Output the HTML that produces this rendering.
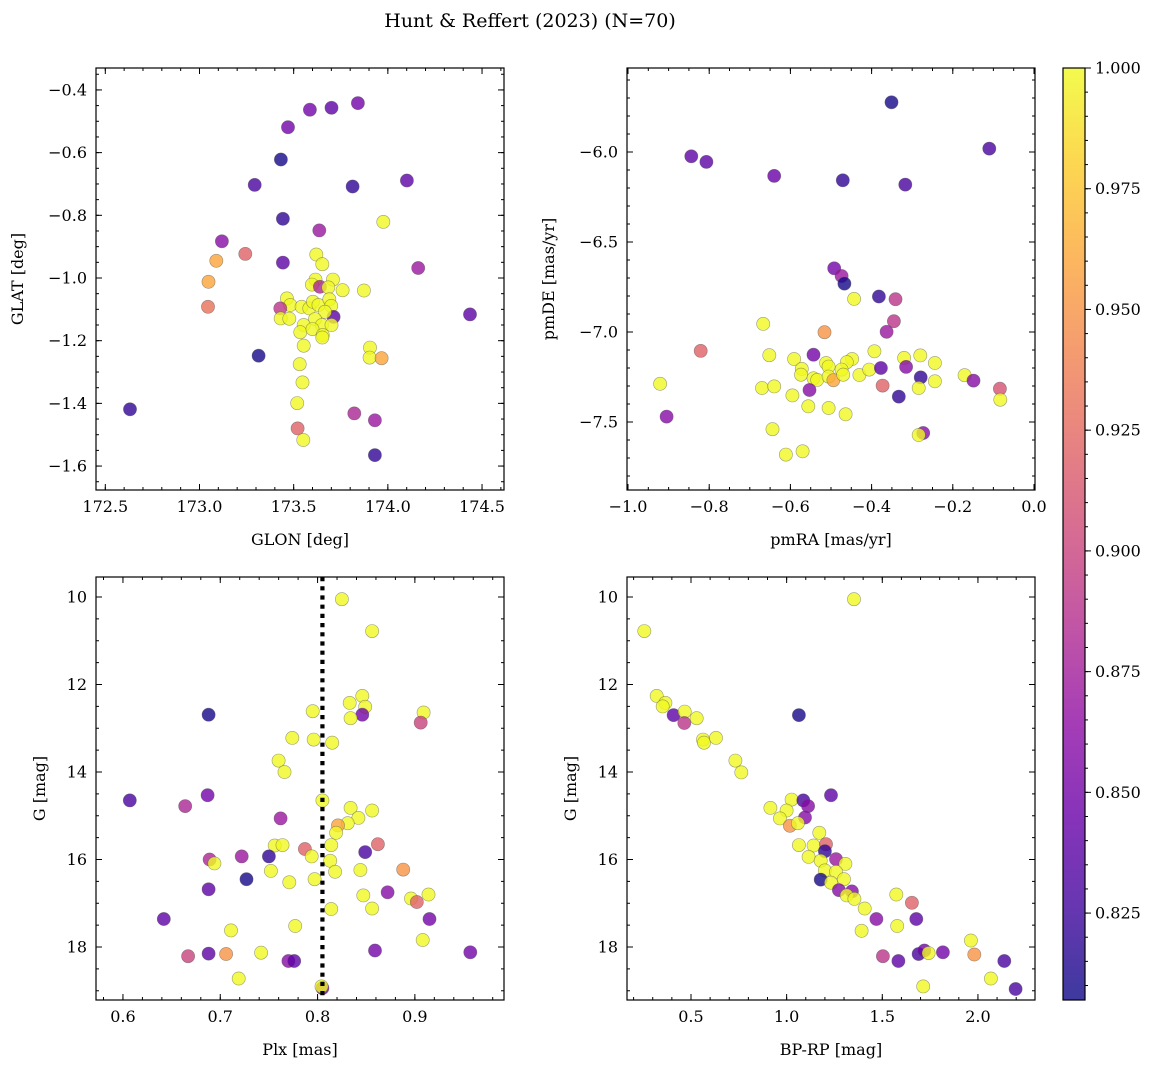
<!DOCTYPE html>
<html><head><meta charset="utf-8"><style>
html,body{margin:0;padding:0;background:#fff;}
svg{display:block;font-family:"DejaVu Serif","Liberation Serif",serif;}
</style></head><body>
<svg id="fig" width="1160" height="1067" viewBox="0 0 1160 1067" xmlns="http://www.w3.org/2000/svg">
<text x="530" y="27" font-size="19" text-anchor="middle">Hunt &amp; Reffert (2023) (N=70)</text>
</svg>
<script>
// Panel 1: GLON vs GLAT
const glon1 = [172.631,173.293,173.432,173.47,173.586,173.701,173.841,173.813,174.101,173.443,173.636,173.976,173.119,173.243,173.089,173.443,174.161,173.048,173.045,174.436,173.314,173.905,173.903,173.967,173.532,173.547,173.519,173.521,173.551,173.822,173.931,173.931,173.62,173.652,173.616,173.597,173.708,173.639,173.684,173.76,173.873,173.464,173.482,173.429,173.542,173.583,173.602,173.632,173.689,173.699,173.712,173.666,173.431,173.477,173.613,173.65,173.701,173.553,173.535,173.6,173.654,173.553,173.652];
const glat1 = [-1.419,-0.703,-0.622,-0.519,-0.463,-0.457,-0.442,-0.708,-0.689,-0.811,-0.848,-0.821,-0.883,-0.923,-0.945,-0.951,-0.968,-1.012,-1.092,-1.116,-1.248,-1.222,-1.254,-1.256,-1.275,-1.333,-1.399,-1.48,-1.517,-1.432,-1.454,-1.565,-0.925,-0.956,-1.005,-1.021,-1.005,-1.028,-1.03,-1.039,-1.04,-1.065,-1.086,-1.097,-1.092,-1.097,-1.076,-1.086,-1.068,-1.089,-1.124,-1.108,-1.129,-1.13,-1.131,-1.15,-1.15,-1.15,-1.173,-1.163,-1.182,-1.216,-1.19];
const prob1 = [0.82,0.83,0.81,0.85,0.85,0.84,0.85,0.82,0.84,0.82,0.87,1.0,0.86,0.92,0.96,0.84,0.87,0.96,0.93,0.84,0.81,1.0,1.0,0.96,1.0,1.0,1.0,0.92,1.0,0.88,0.87,0.82,1.0,1.0,1.0,1.0,1.0,0.88,1.0,1.0,1.0,1.0,1.0,0.89,1.0,1.0,1.0,1.0,1.0,1.0,0.84,1.0,1.0,1.0,1.0,1.0,1.0,1.0,1.0,1.0,1.0,1.0,1.0];
// Panel 2: pmRA vs pmDE
const pmra2 = [-0.351,-0.110,-0.844,-0.807,-0.64,-0.471,-0.317,-0.492,-0.474,-0.467,-0.443,-0.382,-0.341,-0.345,-0.363,-0.516,-0.667,-0.821,-0.652,-0.543,-0.591,-0.393,-0.32,-0.28,-0.244,-0.448,-0.461,-0.512,-0.506,-0.474,-0.572,-0.574,-0.543,-0.534,-0.506,-0.494,-0.47,-0.43,-0.406,-0.377,-0.315,-0.279,-0.244,-0.284,-0.373,-0.333,-0.171,-0.149,-0.084,-0.083,-0.921,-0.905,-0.670,-0.64,-0.553,-0.595,-0.556,-0.506,-0.464,-0.644,-0.611,-0.570,-0.273,-0.284];
const pmde2 = [-5.724,-5.981,-6.024,-6.055,-6.133,-6.157,-6.181,-6.646,-6.689,-6.731,-6.816,-6.803,-6.818,-6.94,-6.999,-7.001,-6.955,-7.105,-7.129,-7.126,-7.150,-7.107,-7.144,-7.13,-7.172,-7.15,-7.168,-7.172,-7.192,-7.209,-7.205,-7.237,-7.257,-7.266,-7.248,-7.268,-7.237,-7.239,-7.209,-7.2,-7.194,-7.252,-7.274,-7.311,-7.298,-7.359,-7.24,-7.27,-7.315,-7.376,-7.288,-7.47,-7.311,-7.302,-7.322,-7.352,-7.413,-7.422,-7.457,-7.54,-7.681,-7.663,-7.561,-7.572];
const prob2 = [0.81,0.83,0.84,0.84,0.845,0.82,0.83,0.85,0.87,0.81,1.0,0.82,0.89,0.89,0.87,0.95,1.0,0.92,1.0,0.85,1.0,1.0,1.0,1.0,1.0,1.0,1.0,1.0,1.0,1.0,1.0,1.0,1.0,1.0,1.0,0.96,1.0,1.0,1.0,0.84,0.86,0.82,1.0,1.0,0.92,0.82,1.0,0.86,0.91,1.0,1.0,0.86,1.0,1.0,0.86,1.0,1.0,1.0,1.0,1.0,1.0,1.0,0.86,1.0];
// Panel 3: Plx vs G
const plx3 = [0.825,0.856,0.846,0.833,0.849,0.846,0.834,0.795,0.909,0.906,0.688,0.774,0.796,0.815,0.760,0.766,0.607,0.664,0.687,0.805,0.834,0.856,0.842,0.831,0.821,0.819,0.762,0.756,0.764,0.814,0.862,0.787,0.794,0.849,0.813,0.689,0.694,0.722,0.750,0.752,0.818,0.844,0.888,0.727,0.771,0.797,0.688,0.872,0.847,0.896,0.902,0.914,0.856,0.814,0.915,0.642,0.711,0.777,0.908,0.667,0.688,0.706,0.742,0.770,0.776,0.859,0.957,0.719,0.805,0.804];
const g3 = [10.05,10.78,12.26,12.42,12.51,12.69,12.77,12.61,12.64,12.87,12.69,13.22,13.26,13.33,13.74,14.0,14.65,14.78,14.53,14.65,14.82,14.88,15.05,15.17,15.22,15.39,15.06,15.68,15.67,15.67,15.65,15.76,15.93,15.83,16.03,16.0,16.09,15.93,15.93,16.26,16.28,16.24,16.23,16.45,16.52,16.45,16.68,16.75,16.82,16.89,16.97,16.80,17.12,17.13,17.36,17.36,17.62,17.52,17.84,18.21,18.15,18.16,18.13,18.32,18.32,18.08,18.12,18.72,18.94,18.9];
const prob3 = [1.0,1.0,1.0,1.0,1.0,0.85,1.0,1.0,1.0,0.9,0.81,1.0,1.0,1.0,1.0,1.0,0.83,0.88,0.85,1.0,1.0,1.0,1.0,1.0,0.96,1.0,0.87,1.0,1.0,1.0,0.92,0.92,1.0,0.83,1.0,0.88,1.0,0.87,0.82,1.0,1.0,1.0,0.95,0.81,1.0,1.0,0.84,0.86,1.0,1.0,0.92,1.0,1.0,1.0,0.85,0.84,1.0,1.0,1.0,0.9,0.84,0.95,1.0,0.86,0.84,0.85,0.85,1.0,0.85,1.0];
// Panel 4: BP-RP vs G
const bprp4 = [1.352,0.256,0.321,0.366,0.352,0.409,0.467,0.465,0.53,0.563,0.568,0.631,1.064,0.732,0.763,1.232,0.915,1.026,1.087,1.112,1.0,0.965,1.096,1.017,1.059,1.171,1.064,1.141,1.206,1.200,1.115,1.178,1.258,1.307,1.2,1.258,1.178,1.232,1.3,1.273,1.341,1.314,1.354,1.408,1.469,1.392,1.573,1.655,1.678,1.578,1.503,1.584,1.69,1.72,1.742,1.817,1.963,1.981,2.138,2.068,2.197,1.714];
const g4 = [10.05,10.78,12.26,12.42,12.5,12.7,12.62,12.88,12.77,13.26,13.33,13.22,12.70,13.74,14.01,14.53,14.82,14.63,14.65,14.78,14.88,15.06,15.04,15.23,15.17,15.39,15.67,15.68,15.65,15.81,15.94,16.03,15.99,16.1,16.25,16.28,16.46,16.53,16.45,16.70,16.73,16.82,16.9,17.12,17.36,17.63,16.80,16.99,17.36,17.52,18.21,18.32,18.16,18.08,18.14,18.12,17.85,18.17,18.32,18.72,18.96,18.9];
const prob4 = [1.0,1.0,1.0,1.0,1.0,0.84,1.0,0.89,1.0,1.0,1.0,1.0,0.81,1.0,1.0,0.84,1.0,1.0,0.83,0.86,1.0,1.0,0.86,0.95,1.0,1.0,1.0,1.0,0.92,0.82,1.0,1.0,0.87,1.0,1.0,1.0,0.81,1.0,1.0,0.86,0.86,1.0,1.0,1.0,0.86,1.0,1.0,0.92,0.84,1.0,0.89,0.84,0.83,0.85,1.0,0.85,1.0,0.95,0.83,1.0,0.83,1.0];
const plxMean = [0.805];
const cbTicks = [0.825,0.850,0.875,0.900,0.925,0.950,0.975,1.000];
const cMin = 0.807, cMax = 1.0;

const NS = "http://www.w3.org/2000/svg";
const svg = document.getElementById('fig');
function mk(tag, attrs, parent){const e=document.createElementNS(NS,tag);for(const k in attrs)e.setAttribute(k,attrs[k]);(parent||svg).appendChild(e);return e;}
const stops=[[13,8,135],[65,4,157],[106,0,168],[143,13,164],[177,42,144],[204,71,120],[225,100,98],[242,132,75],[252,166,54],[252,206,37],[240,249,33]];
function plasma(v){let t=(v-cMin)/(cMax-cMin);t=Math.max(0,Math.min(1,t))*10;const i=Math.min(9,Math.floor(t)),f=t-i;const a=stops[i],b=stops[i+1];return 'rgb('+a.map((x,k)=>Math.round(x+(b[k]-x)*f)).join(',')+')';}
function fmt(v,d){return (v<0?'\u2212':'')+Math.abs(v).toFixed(d);}

function panel(cfg){
  const {x0,y0,w,h,xr,yr,xMaj,xMin,yMaj,yMin,xd,yd,name}=cfg;
  const sx=v=>x0+(v-xr[0])/(xr[1]-xr[0])*w;
  const sy=v=>y0+(v-yr[0])/(yr[1]-yr[0])*h;
  const g=mk('g',{});
  
  
  const clipId='clip-'+name;
  const cp=mk('clipPath',{id:clipId},g);mk('rect',{x:x0,y:y0,width:w,height:h},cp);
  const pts=mk('g',{'clip-path':'url(#'+clipId+')'},g);
  
  
  for(let i=0;i<cfg.xs.length;i++){
    const c=mk('circle',{cx:sx(cfg.xs[i]).toFixed(1),cy:sy(cfg.ys[i]).toFixed(1),r:6.6,fill:plasma(cfg.cs[i]),'fill-opacity':0.8,stroke:'rgba(80,80,80,0.55)','stroke-width':0.6},pts);
    
    
  }
  if(cfg.vline){for(const v of cfg.vline){const l=mk('line',{x1:sx(v),x2:sx(v),y1:y0,y2:y0+h,stroke:'#000','stroke-width':4.2,'stroke-dasharray':'4.2 5'},g);
    
    }}
  const fr=mk('rect',{x:x0,y:y0,width:w,height:h,fill:'none',stroke:'#000','stroke-width':1.2},g);
  
  
  const tk=(x1,y1,x2,y2)=>mk('line',{x1,y1,x2,y2,stroke:'#000','stroke-width':1},g);
  const eps=1e-9;
  for(let v=Math.ceil(xr[0]/xMin-eps)*xMin;v<=xr[1]+eps;v+=xMin){const X=sx(v);tk(X,y0+h,X,y0+h-3);tk(X,y0,X,y0+3);}
  for(let v=Math.ceil(yr[0]/yMin-eps)*yMin;(yr[1]>yr[0]?v<=yr[1]+eps:false);v+=yMin){const Y=sy(v);tk(x0,Y,x0+3,Y);tk(x0+w,Y,x0+w-3,Y);}
  if(yr[1]<yr[0]){for(let v=Math.ceil(yr[1]/yMin-eps)*yMin;v<=yr[0]+eps;v+=yMin){const Y=sy(v);tk(x0,Y,x0+3,Y);tk(x0+w,Y,x0+w-3,Y);}}
  for(const v of cfg.xTicks){const X=sx(v);tk(X,y0+h,X,y0+h-6);tk(X,y0,X,y0+6);
    const t=mk('text',{x:X,y:y0+h+22,'font-size':16,'text-anchor':'middle'},g);t.textContent=fmt(v,xd);
    
    }
  for(const v of cfg.yTicks){const Y=sy(v);tk(x0,Y,x0+6,Y);tk(x0+w,Y,x0+w-6,Y);
    const t=mk('text',{x:x0-9,y:Y+5.5,'font-size':16,'text-anchor':'end'},g);t.textContent=fmt(v,yd);
    
    }
  const xl=mk('text',{x:x0+w/2,y:y0+h+55,'font-size':16,'text-anchor':'middle'},g);xl.textContent=cfg.xlabel;
  
  
  const yc=y0+h/2, yx=cfg.ylx;
  const yl=mk('text',{x:yx,y:yc,'font-size':16,'text-anchor':'middle',transform:'rotate(-90 '+yx+' '+yc+')'},g);yl.textContent=cfg.ylabel;
  
  
}
function rng(a,b,s){const r=[];for(let v=a;v<=b+1e-9;v+=s)r.push(Math.round(v*1000)/1000);return r;}

panel({name:'glon-glat',x0:96,y0:68,w:408,h:422,xr:[172.4506,174.6166],yr:[-0.33,-1.6764],xMin:0.1,yMin:0.05,
  xTicks:rng(172.5,174.5,0.5),yTicks:rng(-1.6,-0.4,0.2),xd:1,yd:1,xs:glon1,ys:glat1,cs:prob1,xlabel:'GLON [deg]',ylabel:'GLAT [deg]',ylx:23});
panel({name:'proper-motion',x0:627,y0:68,w:408,h:422,xr:[-1.0025,0.0025],yr:[-5.5333,-7.8778],xMin:0.05,yMin:0.1,
  xTicks:rng(-1.0,0.0,0.2),yTicks:rng(-7.5,-6.0,0.5),xd:1,yd:1,xs:pmra2,ys:pmde2,cs:prob2,xlabel:'pmRA [mas/yr]',ylabel:'pmDE [mas/yr]',ylx:554});
panel({name:'plx-g',x0:96,y0:577,w:408,h:423,xr:[0.5723,0.9916],yr:[9.543,19.211],xMin:0.02,yMin:0.5,
  xTicks:rng(0.6,0.9,0.1),yTicks:rng(10,18,2),xd:1,yd:0,xs:plx3,ys:g3,cs:prob3,xlabel:'Plx [mas]',ylabel:'G [mag]',ylx:45,vline:plxMean});
panel({name:'cmd',x0:627,y0:577,w:408,h:423,xr:[0.1655,2.2983],yr:[9.543,19.211],xMin:0.1,yMin:0.5,
  xTicks:rng(0.5,2.0,0.5),yTicks:rng(10,18,2),xd:1,yd:0,xs:bprp4,ys:g4,cs:prob4,xlabel:'BP-RP [mag]',ylabel:'G [mag]',ylx:576});

// colorbar
(function(){
  const x0=1063,y0=68,w=22,h=932;
  const cb=mk('g',{});
  
  
  const gr=mk('linearGradient',{id:'cbg',x1:0,y1:1,x2:0,y2:0},cb);
  for(let i=0;i<=20;i++){const v=cMin+(cMax-cMin)*i/20;mk('stop',{offset:i/20,'stop-color':plasma(v),'stop-opacity':0.8},gr);}
  mk('rect',{x:x0,y:y0,width:w,height:h,fill:'url(#cbg)',stroke:'#000','stroke-width':1.2},cb);
  const sy=v=>y0+(cMax-v)/(cMax-cMin)*h;
  for(let v=0.81;v<=1.0001;v+=0.005){const Y=sy(v);mk('line',{x1:x0+w,x2:x0+w+3,y1:Y,y2:Y,stroke:'#000','stroke-width':1},cb);}
  for(const v of cbTicks){const Y=sy(v);mk('line',{x1:x0+w,x2:x0+w+6,y1:Y,y2:Y,stroke:'#000','stroke-width':1},cb);
    const t=mk('text',{x:x0+w+10,y:Y+5.5,'font-size':16},cb);t.textContent=v.toFixed(3);
    
    }
})();
</script>
</body></html>
